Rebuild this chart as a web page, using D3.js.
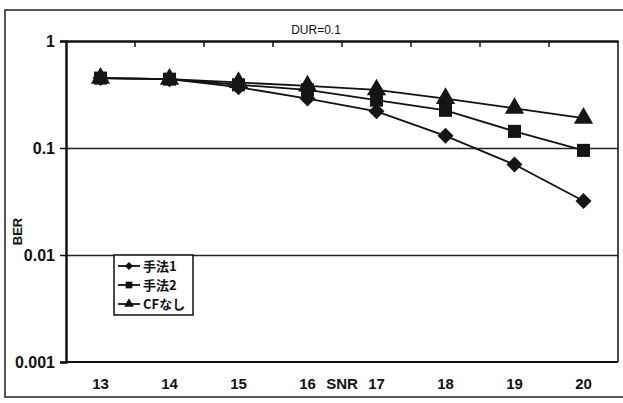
<!DOCTYPE html>
<html>
<head>
<meta charset="utf-8">
<script src="https://cdn.jsdelivr.net/npm/d3@7"></script>
<style>
  body { margin: 0; background: #fff; }
  svg text { font-family: "Liberation Sans", Arial, sans-serif; }
</style>
</head>
<body>
<div id="chart"></div>
<script>
// data
const snr = [13, 14, 15, 16, 17, 18, 19, 20]
const method1 = [0.45, 0.44, 0.37, 0.29, 0.22, 0.13, 0.07, 0.032]
const method2 = [0.45, 0.44, 0.39, 0.35, 0.28, 0.225, 0.143, 0.095]
const cfNone = [0.45, 0.44, 0.41, 0.38, 0.35, 0.29, 0.235, 0.19]
const yTicks = [1, 0.1, 0.01, 0.001]
const seriesNames = ["手法1", "手法2", "CFなし"]

let W = 623, H = 403
let plot = {left: 66, right: 618, top: 41, bottom: 362}

let svg = d3.select("#chart").append("svg")
    .attr("width", W).attr("height", H)

// outer frame
svg.append("rect").attr("x", 5).attr("y", 10).attr("width", 640).attr("height", 387)
    .attr("fill", "#fff").attr("stroke", "#222").attr("stroke-width", 1.5)

let x = d3.scaleBand().domain(snr).range([plot.left, plot.right]).padding(0)
let y = d3.scaleLog().domain([0.001, 1]).range([plot.bottom, plot.top])
let cx = v => x(v) + x.bandwidth() / 2

// gridlines
svg.append("g").selectAll("line")
    .data([0.1, 0.01])
    .join("line")
    .attr("x1", plot.left).attr("x2", plot.right)
    .attr("y1", d => Math.round(y(d)) + 0.5).attr("y2", d => Math.round(y(d)) + 0.5)
    .attr("stroke", "#222").attr("stroke-width", 1.6)

// plot border: bottom + right
svg.append("line").attr("x1", plot.left).attr("x2", plot.right)
    .attr("y1", y(0.001)).attr("y2", y(0.001)).attr("stroke", "#111").attr("stroke-width", 2)
svg.append("line").attr("x1", plot.right).attr("x2", plot.right)
    .attr("y1", y(1)).attr("y2", y(0.001)).attr("stroke", "#111").attr("stroke-width", 1.5)

// category axis sits at the top (BER = 1), ticks pointing down
let xAxis = svg.append("g")
    .attr("transform", `translate(0,${y(1)})`)
    .call(d3.axisBottom(x).tickSize(0).tickFormat(""))
xAxis.select(".domain").attr("stroke", "#111").attr("stroke-width", 2.5)
xAxis.append("g").selectAll("line")
    .data(snr.slice(1))
    .join("line")
    .attr("x1", d => x(d)).attr("x2", d => x(d))
    .attr("y1", 0).attr("y2", 6)
    .attr("stroke", "#111").attr("stroke-width", 1.5)

// category labels at the bottom
svg.append("g").selectAll("text")
    .data(snr)
    .join("text")
    .attr("x", d => cx(d))
    .attr("y", 389)
    .attr("text-anchor", "middle")
    .style("font-size", "15px").style("font-weight", "bold")
    .attr("fill", "#111")
    .text(d => d)

svg.append("text")
    .attr("x", x(17))
    .attr("y", 389)
    .attr("text-anchor", "middle")
    .style("font-size", "15px").style("font-weight", "bold")
    .attr("fill", "#111")
    .text("SNR")

// value axis
let yAxis = svg.append("g")
    .attr("transform", `translate(${plot.left},0)`)
    .call(d3.axisLeft(y).tickValues(yTicks).tickSize(6).tickPadding(5).tickFormat(d => String(d)))
yAxis.select(".domain").attr("stroke", "#111").attr("stroke-width", 2.5)
yAxis.selectAll(".tick line").attr("stroke", "#111").attr("stroke-width", 1.5)
yAxis.selectAll("text")
    .style("font-size", "16px").style("font-weight", "bold")
    .style("font-family", "'Liberation Sans', Arial, sans-serif")
    .attr("fill", "#111")

svg.append("text")
    .attr("transform", `translate(22,${(plot.top + plot.bottom) / 2 + 30}) rotate(-90)`)
    .attr("text-anchor", "middle")
    .style("font-size", "13px").style("font-weight", "bold")
    .attr("fill", "#111")
    .text("BER")

svg.append("text")
    .attr("x", 316).attr("y", 34)
    .attr("text-anchor", "middle")
    .style("font-size", "12px")
    .attr("fill", "#111")
    .text("DUR=0.1")

// marker shapes: diamond is a square turned 45 degrees
let markerFns = [
    s => d3.symbol().type(d3.symbolSquare).size(s * 0.75)(),
    s => d3.symbol().type(d3.symbolSquare).size(s)(),
    s => d3.symbol().type(d3.symbolTriangle).size(s * 0.95)()
]
let markerRot = [45, 0, 0]

// series
let allSeries = [method1, method2, cfNone]
let drawOrder = [2, 0, 1]   // squares end up on top, as in the picture
let line = d3.line()
    .x((d, i) => cx(snr[i]))
    .y(d => y(d))

drawOrder.forEach(k => {
    svg.append("path")
        .datum(allSeries[k])
        .attr("d", line)
        .attr("fill", "none")
        .attr("stroke", "#111")
        .attr("stroke-width", 1.8)
})
drawOrder.forEach(k => {
    svg.append("g").selectAll("path")
        .data(allSeries[k])
        .join("path")
        .attr("transform", (d, i) => `translate(${cx(snr[i])},${y(d)}) rotate(${markerRot[k]})`)
        .attr("d", markerFns[k](170))
        .attr("fill", "#151515")
})

// legend
let lg = svg.append("g").attr("transform", "translate(114,255)")
lg.append("rect").attr("width", 79).attr("height", 60)
    .attr("fill", "#fff").attr("stroke", "#111").attr("stroke-width", 1.5)
seriesNames.forEach((name, k) => {
    let ly = 11 + k * 19
    lg.append("line").attr("x1", 4).attr("x2", 26).attr("y1", ly).attr("y2", ly)
        .attr("stroke", "#111").attr("stroke-width", 1.8)
    lg.append("path").attr("transform", `translate(15,${ly}) rotate(${markerRot[k]})`)
        .attr("d", markerFns[k](45)).attr("fill", "#111")
    lg.append("text").attr("x", 29).attr("y", ly + 5)
        .style("font-size", "13px").style("font-weight", "bold")
        .style("font-family", "'Noto Sans CJK JP', sans-serif")
        .attr("fill", "#111")
        .text(name)
})
</script>
</body>
</html>
